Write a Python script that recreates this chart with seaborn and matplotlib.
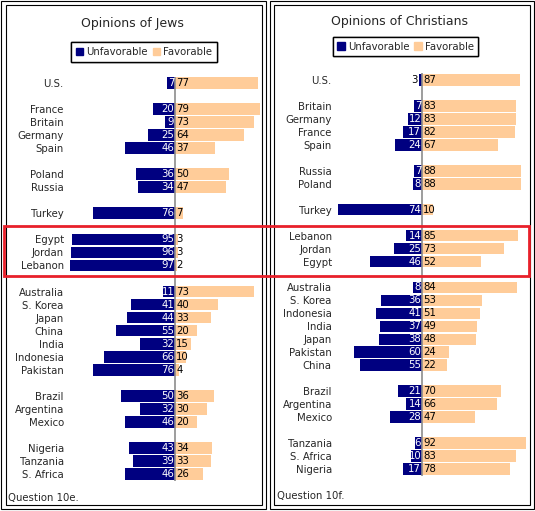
import numpy as np
import pandas as pd
import matplotlib
matplotlib.use("Agg")
import matplotlib.pyplot as plt
from matplotlib.patches import Rectangle, Patch
import seaborn as sns

# -------------------------------
# DATA
# -------------------------------

group_sizes = [1, 4, 2, 1, 3, 7, 3, 3]

jews_countries = ["U.S.", "France", "Britain", "Germany", "Spain", "Poland", "Russia",
                  "Turkey", "Egypt", "Jordan", "Lebanon", "Australia", "S. Korea",
                  "Japan", "China", "India", "Indonesia", "Pakistan", "Brazil",
                  "Argentina", "Mexico", "Nigeria", "Tanzania", "S. Africa"]
jews_unfav = [7, 20, 9, 25, 46, 36, 34, 76, 95, 96, 97, 11, 41, 44, 55, 32, 66, 76,
              50, 32, 46, 43, 39, 46]
jews_fav = [77, 79, 73, 64, 37, 50, 47, 7, 3, 3, 2, 73, 40, 33, 20, 15, 10, 4,
            36, 30, 20, 34, 33, 26]

chr_countries = ["U.S.", "Britain", "Germany", "France", "Spain", "Russia", "Poland",
                 "Turkey", "Lebanon", "Jordan", "Egypt", "Australia", "S. Korea",
                 "Indonesia", "India", "Japan", "Pakistan", "China", "Brazil",
                 "Argentina", "Mexico", "Tanzania", "S. Africa", "Nigeria"]
chr_unfav = [3, 7, 12, 17, 24, 7, 8, 74, 14, 25, 46, 8, 36, 41, 37, 38, 60, 55,
             21, 14, 28, 6, 10, 17]
chr_fav = [87, 83, 83, 82, 67, 88, 88, 10, 85, 73, 52, 84, 53, 51, 49, 48, 24, 22,
           70, 66, 47, 92, 83, 78]

NAVY = "#000080"
PEACH = "#ffcc99"
W, H = 535, 511

sns.set_theme(style="white")
plt.rcParams["font.family"] = ["DejaVu Sans"]
FS = 7.3


def row_positions(sizes):
    pos = []
    r = 0
    for s in sizes:
        for _ in range(s):
            pos.append(r)
            r += 1
        r += 1
    return pos


def px_rect(fig, x0, y0, x1, y1, **kw):
    fig.add_artist(Rectangle((x0 / W, 1 - y1 / H), (x1 - x0) / W, (y1 - y0) / H,
                             transform=fig.transFigure, fill=False, **kw))


def draw_panel(fig, box, xlim, countries, unfav, fav):
    left, right, top, bottom = box
    ax = fig.add_axes([left / W, 1 - bottom / H, (right - left) / W, (bottom - top) / H])
    ax.set_facecolor("none")
    pos = row_positions(group_sizes)
    df = pd.DataFrame({"pos": pos, "unfav": [-v for v in unfav], "fav": fav})

    sns.barplot(data=df, x="unfav", y="pos", orient="h", native_scale=True,
                color=NAVY, saturation=1, width=0.9, linewidth=0, ax=ax)
    sns.barplot(data=df, x="fav", y="pos", orient="h", native_scale=True,
                color=PEACH, saturation=1, width=0.9, linewidth=0, ax=ax)

    ax.axvline(0, color="#8c8c8c", lw=1.2, zorder=3)

    for p, u, f in zip(pos, unfav, fav):
        if u >= 5:
            ax.text(-0.7, p, str(u), ha="right", va="center", color="white",
                    fontsize=FS, zorder=4)
        else:
            ax.text(-u - 0.7, p, str(u), ha="right", va="center", color="black",
                    fontsize=FS, zorder=4)
        ax.text(1.2, p, str(f), ha="left", va="center", color="black",
                fontsize=FS, zorder=4)

    ax.set_xlim(*xlim)
    ax.set_ylim(30.5, -0.5)
    ax.set_yticks(pos)
    ax.set_yticklabels(countries, fontsize=FS)
    ax.set_xticks([])
    ax.tick_params(axis="y", length=0, pad=3)
    ax.set_xlabel("")
    ax.set_ylabel("")
    for s in ax.spines.values():
        s.set_visible(False)
    return ax


fig = plt.figure(figsize=(W / 100, H / 100), dpi=100)

# -------------------------------
# LEFT PANEL - JEWS
# -------------------------------

draw_panel(fig, (68, 264, 76.5, 480.5), (-(175 - 68) / 1.08, (264 - 175) / 1.08),
           jews_countries, jews_unfav, jews_fav)

# -------------------------------
# RIGHT PANEL - CHRISTIANS
# -------------------------------

draw_panel(fig, (336, 529, 73.5, 475.5), (-(422 - 336) / 1.13, (529 - 422) / 1.13),
           chr_countries, chr_unfav, chr_fav)

# titles
fig.text(132 / W, 1 - 24 / H, "Opinions of Jews", ha="center", va="center", fontsize=9)
fig.text(399.5 / W, 1 - 21 / H, "Opinions of Christians", ha="center", va="center",
         fontsize=9)

# legends
handles = [Patch(color=NAVY), Patch(color=PEACH)]
for cx, cy in [(144, 52), (405.5, 46.5)]:
    leg = fig.legend(handles, ["Unfavorable", "Favorable"], loc="center",
                     bbox_to_anchor=(cx / W, 1 - cy / H), ncol=2, frameon=True,
                     fancybox=False, edgecolor="black", framealpha=1,
                     handlelength=0.75, handleheight=0.75, handletextpad=0.3,
                     columnspacing=0.5, borderpad=0.45, borderaxespad=0,
                     fontsize=FS)
    leg.get_frame().set_linewidth(1.0)
    fig.add_artist(leg)

# footnotes
fig.text(8 / W, 1 - 498 / H, "Question 10e.", ha="left", va="center", fontsize=FS)
fig.text(277 / W, 1 - 496 / H, "Question 10f.", ha="left", va="center", fontsize=FS)

# double borders
for x0, x1 in [(1, 266), (269, 534)]:
    px_rect(fig, x0 + 0.5, 1.5, x1 - 0.5, 508.5, lw=0.8, edgecolor="black")
    px_rect(fig, x0 + 4.5, 5.5, x1 - 4.5, 504.5, lw=0.8, edgecolor="black")

# red highlight box
px_rect(fig, 4, 226, 529, 275.5, lw=2.0, edgecolor="#e8202a", zorder=5)

plt.savefig("out.png", dpi=100)
